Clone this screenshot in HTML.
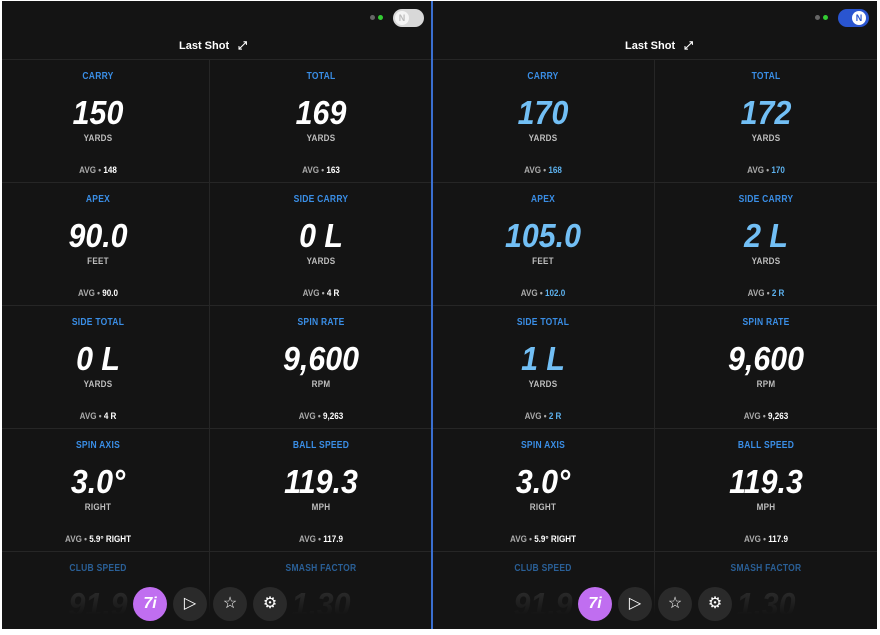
<!DOCTYPE html>
<html><head><meta charset="utf-8"><style>
body{margin:0;width:880px;height:635px;background:#fff;position:relative;overflow:hidden;font-family:"Liberation Sans",sans-serif}
.panel{position:absolute;top:1px;height:628px;background:#141414}
.hl{position:absolute;height:1px;background:#262626}
.vl{position:absolute;width:1px;background:#262626}
.c{position:absolute;width:200px;margin-left:-100px;text-align:center;white-space:nowrap}
.lab{font-size:10px;font-weight:bold;color:#3a8ee6;transform:scaleX(.85);letter-spacing:.3px}
.val{font-size:33px;font-weight:bold;font-style:italic;color:#fff;transform:scaleX(.92);line-height:33px}
.b .val{color:#72bff5}
.unit{font-size:9.5px;font-weight:bold;color:#bdbdbd;transform:scaleX(.85);letter-spacing:.3px}
.avg{font-size:9.5px;font-weight:bold;color:#aaa;transform:scaleX(.85)}
.avg span{color:#fff}
.b .avg span{color:#5db2ef}
.title{position:absolute;top:40px;font-size:11px;font-weight:bold;color:#fff}
.btn{position:absolute;top:587px;width:34px;height:34px;border-radius:50%;background:#2a2a2a;color:#fff;text-align:center;line-height:34px;font-size:16px}
.fade{position:absolute;height:45px;top:583px;background:linear-gradient(#14141400,#141414 70%)}
</style></head><body>
<div class="panel" style="left:2px;width:429px"></div>
<div class="panel" style="left:433px;width:444px"></div>
<div style="position:absolute;left:431px;top:1px;width:2px;height:628px;background:#3a6fd0"></div>
<!-- grid lines -->
<div class="hl" style="left:2px;width:429px;top:59px"></div><div class="hl" style="left:433px;width:444px;top:59px"></div>
<div class="hl" style="left:2px;width:429px;top:182px"></div><div class="hl" style="left:433px;width:444px;top:182px"></div>
<div class="hl" style="left:2px;width:429px;top:305px"></div><div class="hl" style="left:433px;width:444px;top:305px"></div>
<div class="hl" style="left:2px;width:429px;top:428px"></div><div class="hl" style="left:433px;width:444px;top:428px"></div>
<div class="hl" style="left:2px;width:429px;top:551px"></div><div class="hl" style="left:433px;width:444px;top:551px"></div>
<div class="vl" style="left:209px;top:60px;height:568px"></div>
<div class="vl" style="left:654px;top:60px;height:568px"></div>
<!-- header -->
<div style="position:absolute;left:370px;top:15px;width:5px;height:5px;border-radius:50%;background:#666"></div>
<div style="position:absolute;left:378px;top:15px;width:5px;height:5px;border-radius:50%;background:#3c3"></div>
<div style="position:absolute;left:393px;top:9px;width:31px;height:18px;border-radius:9px;background:#d8d8d8"></div>
<div style="position:absolute;left:395px;top:11px;width:14px;height:14px;border-radius:50%;background:#f4f4f4;color:#bbb;font-size:9px;font-weight:bold;text-align:center;line-height:14px">N</div>
<div style="position:absolute;left:815px;top:15px;width:5px;height:5px;border-radius:50%;background:#666"></div>
<div style="position:absolute;left:823px;top:15px;width:5px;height:5px;border-radius:50%;background:#3c3"></div>
<div style="position:absolute;left:838px;top:9px;width:31px;height:18px;border-radius:9px;background:#2a55d0"></div>
<div style="position:absolute;left:852px;top:11px;width:14px;height:14px;border-radius:50%;background:#fff;color:#2a55d0;font-size:9px;font-weight:bold;text-align:center;line-height:14px">N</div>
<div class="title" style="left:179px">Last Shot <span style="margin-left:6px">⤢</span></div>
<div class="title" style="left:625px">Last Shot <span style="margin-left:6px">⤢</span></div>

<!-- left panel cells -->
<div class="a">
<div class="c lab" style="left:98px;top:71px">CARRY</div><div class="c val" style="left:98px;top:96px">150</div><div class="c unit" style="left:98px;top:133px">YARDS</div><div class="c avg" style="left:98px;top:165px">AVG • <span>148</span></div>
<div class="c lab" style="left:321px;top:71px">TOTAL</div><div class="c val" style="left:321px;top:96px">169</div><div class="c unit" style="left:321px;top:133px">YARDS</div><div class="c avg" style="left:321px;top:165px">AVG • <span>163</span></div>
<div class="c lab" style="left:98px;top:194px">APEX</div><div class="c val" style="left:98px;top:219px">90.0</div><div class="c unit" style="left:98px;top:256px">FEET</div><div class="c avg" style="left:98px;top:288px">AVG • <span>90.0</span></div>
<div class="c lab" style="left:321px;top:194px">SIDE CARRY</div><div class="c val" style="left:321px;top:219px">0 L</div><div class="c unit" style="left:321px;top:256px">YARDS</div><div class="c avg" style="left:321px;top:288px">AVG • <span>4 R</span></div>
<div class="c lab" style="left:98px;top:317px">SIDE TOTAL</div><div class="c val" style="left:98px;top:342px">0 L</div><div class="c unit" style="left:98px;top:379px">YARDS</div><div class="c avg" style="left:98px;top:411px">AVG • <span>4 R</span></div>
<div class="c lab" style="left:321px;top:317px">SPIN RATE</div><div class="c val" style="left:321px;top:342px">9,600</div><div class="c unit" style="left:321px;top:379px">RPM</div><div class="c avg" style="left:321px;top:411px">AVG • <span>9,263</span></div>
<div class="c lab" style="left:98px;top:440px">SPIN AXIS</div><div class="c val" style="left:98px;top:465px">3.0°</div><div class="c unit" style="left:98px;top:502px">RIGHT</div><div class="c avg" style="left:98px;top:534px">AVG • <span>5.9° RIGHT</span></div>
<div class="c lab" style="left:321px;top:440px">BALL SPEED</div><div class="c val" style="left:321px;top:465px">119.3</div><div class="c unit" style="left:321px;top:502px">MPH</div><div class="c avg" style="left:321px;top:534px">AVG • <span>117.9</span></div>
<div class="c lab" style="left:98px;top:563px;color:#2a5f96">CLUB SPEED</div><div class="c val" style="left:98px;top:588px;color:#333">91.9</div>
<div class="c lab" style="left:321px;top:563px;color:#2a5f96">SMASH FACTOR</div><div class="c val" style="left:321px;top:588px;color:#333">1.30</div>
</div>
<div class="b">
<div class="c lab" style="left:543px;top:71px">CARRY</div><div class="c val" style="left:543px;top:96px">170</div><div class="c unit" style="left:543px;top:133px">YARDS</div><div class="c avg" style="left:543px;top:165px">AVG • <span>168</span></div>
<div class="c lab" style="left:766px;top:71px">TOTAL</div><div class="c val" style="left:766px;top:96px">172</div><div class="c unit" style="left:766px;top:133px">YARDS</div><div class="c avg" style="left:766px;top:165px">AVG • <span>170</span></div>
<div class="c lab" style="left:543px;top:194px">APEX</div><div class="c val" style="left:543px;top:219px">105.0</div><div class="c unit" style="left:543px;top:256px">FEET</div><div class="c avg" style="left:543px;top:288px">AVG • <span>102.0</span></div>
<div class="c lab" style="left:766px;top:194px">SIDE CARRY</div><div class="c val" style="left:766px;top:219px">2 L</div><div class="c unit" style="left:766px;top:256px">YARDS</div><div class="c avg" style="left:766px;top:288px">AVG • <span>2 R</span></div>
<div class="c lab" style="left:543px;top:317px">SIDE TOTAL</div><div class="c val" style="left:543px;top:342px">1 L</div><div class="c unit" style="left:543px;top:379px">YARDS</div><div class="c avg" style="left:543px;top:411px">AVG • <span>2 R</span></div>
<div class="c lab" style="left:766px;top:317px">SPIN RATE</div><div class="c val" style="left:766px;top:342px;color:#fff">9,600</div><div class="c unit" style="left:766px;top:379px">RPM</div><div class="c avg" style="left:766px;top:411px">AVG • <span style="color:#fff">9,263</span></div>
<div class="c lab" style="left:543px;top:440px">SPIN AXIS</div><div class="c val" style="left:543px;top:465px;color:#fff">3.0°</div><div class="c unit" style="left:543px;top:502px">RIGHT</div><div class="c avg" style="left:543px;top:534px">AVG • <span style="color:#fff">5.9° RIGHT</span></div>
<div class="c lab" style="left:766px;top:440px">BALL SPEED</div><div class="c val" style="left:766px;top:465px;color:#fff">119.3</div><div class="c unit" style="left:766px;top:502px">MPH</div><div class="c avg" style="left:766px;top:534px">AVG • <span style="color:#fff">117.9</span></div>
<div class="c lab" style="left:543px;top:563px;color:#2a5f96">CLUB SPEED</div><div class="c val" style="left:543px;top:588px;color:#333">91.9</div>
<div class="c lab" style="left:766px;top:563px;color:#2a5f96">SMASH FACTOR</div><div class="c val" style="left:766px;top:588px;color:#333">1.30</div>
</div>
<div class="fade" style="left:2px;width:429px"></div>
<div class="fade" style="left:433px;width:444px"></div>
<!-- buttons -->
<div class="btn" style="left:133px;background:#c06ef0;font-weight:bold;font-style:italic">7i</div>
<div class="btn" style="left:173px">▷</div>
<div class="btn" style="left:213px">☆</div>
<div class="btn" style="left:253px">⚙</div>
<div class="btn" style="left:578px;background:#c06ef0;font-weight:bold;font-style:italic">7i</div>
<div class="btn" style="left:618px">▷</div>
<div class="btn" style="left:658px">☆</div>
<div class="btn" style="left:698px">⚙</div>
</body></html>
